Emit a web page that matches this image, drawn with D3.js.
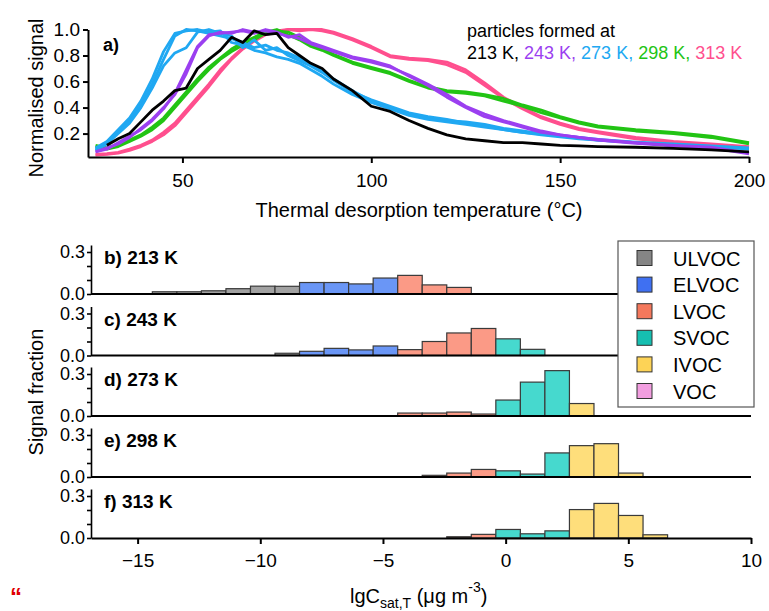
<!DOCTYPE html>
<html>
<head>
<meta charset="utf-8">
<script src="https://cdn.jsdelivr.net/npm/d3@7"></script>
<style>
  body { margin: 0; background: #fff; }
  text { font-family: "Liberation Sans", Arial, sans-serif; }
</style>
</head>
<body>
<svg width="769" height="611"></svg>
<script>
// ---- panel a: thermograms (normalised signal vs desorption temperature)
const temps = [27, 30, 33, 36, 39, 42, 45, 48, 51, 54, 57, 60, 63, 66, 69, 72, 75, 78, 81, 84, 87, 90,
  95, 100, 105, 110, 115, 120, 125, 130, 135, 140, 145, 150, 155, 160, 170, 180, 190, 200]

const curves213 = [
  [null, 0.11, 0.16, 0.20, 0.29, 0.38, 0.45, 0.53, 0.55, 0.70, 0.77, 0.84, 0.94, 0.90, 0.99, 0.96, 0.97, 0.86, 0.80, 0.74, 0.70, 0.62,
   0.53, 0.41, 0.37, 0.30, 0.24, 0.19, 0.16, 0.145, 0.13, 0.13, 0.12, 0.11, 0.105, 0.10, 0.095, 0.087, 0.075, 0.06]
]
const curves243 = [
  [0.06, 0.08, 0.13, 0.18, 0.23, 0.30, 0.39, 0.51, 0.69, 0.87, 0.96, 0.97, 0.98, 0.99, 0.97, 1.0, 0.98, 0.94, 0.96, 0.90, 0.87, 0.84,
   0.79, 0.76, 0.72, 0.64, 0.57, 0.48, 0.40, 0.33, 0.29, 0.25, 0.21, 0.19, 0.17, 0.155, 0.13, 0.11, 0.095, 0.05],
  [0.06, 0.09, 0.12, 0.17, 0.24, 0.31, 0.40, 0.50, 0.66, 0.86, 0.95, 0.98, 0.97, 1.0, 0.98, 0.99, 0.97, 0.95, 0.93, 0.89, 0.86, 0.83,
   0.78, 0.75, 0.71, 0.65, 0.58, 0.50, 0.41, 0.35, 0.30, 0.26, 0.22, 0.19, 0.17, 0.15, 0.125, 0.105, 0.09, 0.045]
]
const curves273 = [
  [0.08, 0.13, 0.22, 0.30, 0.42, 0.58, 0.77, 0.95, 1.0, 0.99, 0.97, 0.95, 0.93, 0.90, 0.86, 0.88, 0.84, 0.82, 0.78, 0.73, 0.68, 0.62,
   0.53, 0.45, 0.40, 0.35, 0.32, 0.30, 0.29, 0.27, 0.24, 0.22, 0.20, 0.185, 0.17, 0.155, 0.135, 0.12, 0.105, 0.09],
  [0.07, 0.12, 0.20, 0.28, 0.40, 0.55, 0.72, 0.82, 0.86, 0.98, 1.0, 0.97, 0.95, 0.86, 0.92, 0.84, 0.86, 0.80, 0.76, 0.72, 0.67, 0.61,
   0.52, 0.46, 0.41, 0.36, 0.33, 0.31, 0.28, 0.26, 0.23, 0.21, 0.195, 0.18, 0.165, 0.15, 0.13, 0.115, 0.10, 0.085],
  [0.09, 0.14, 0.23, 0.32, 0.45, 0.62, 0.83, 0.97, 0.99, 1.0, 0.98, 0.99, 0.90, 0.88, 0.84, 0.82, 0.79, 0.77, 0.74, 0.69, 0.64, 0.58,
   0.50, 0.44, 0.39, 0.34, 0.31, 0.29, 0.27, 0.25, 0.23, 0.21, 0.19, 0.175, 0.16, 0.15, 0.13, 0.11, 0.10, 0.08]
]
const curves298 = [
  [0.10, 0.08, 0.10, 0.14, 0.18, 0.23, 0.30, 0.40, 0.50, 0.60, 0.69, 0.77, 0.83, 0.88, 0.92, 0.97, 0.99, 0.98, 0.94, 0.88, 0.85, 0.81,
   0.75, 0.71, 0.67, 0.61, 0.56, 0.53, 0.52, 0.50, 0.47, 0.42, 0.38, 0.33, 0.29, 0.26, 0.23, 0.21, 0.18, 0.13],
  [0.11, 0.09, 0.11, 0.15, 0.19, 0.25, 0.32, 0.42, 0.52, 0.62, 0.71, 0.78, 0.85, 0.90, 0.94, 0.98, 1.0, 0.96, 0.92, 0.87, 0.84, 0.80,
   0.74, 0.70, 0.66, 0.60, 0.55, 0.52, 0.51, 0.49, 0.45, 0.41, 0.36, 0.32, 0.28, 0.25, 0.22, 0.20, 0.17, 0.12]
]
const curves313 = [
  [0.035, 0.04, 0.05, 0.07, 0.10, 0.14, 0.19, 0.26, 0.36, 0.46, 0.56, 0.67, 0.77, 0.85, 0.91, 0.96, 0.98, 1.0, 1.0, 1.0, 1.0, 0.98,
   0.93, 0.87, 0.80, 0.78, 0.77, 0.75, 0.69, 0.59, 0.48, 0.40, 0.33, 0.28, 0.24, 0.215, 0.17, 0.14, 0.12, 0.10],
  [0.04, 0.045, 0.055, 0.08, 0.11, 0.15, 0.21, 0.28, 0.38, 0.48, 0.58, 0.69, 0.78, 0.86, 0.92, 0.97, 0.99, 1.0, 0.99, 1.0, 0.99, 0.97,
   0.92, 0.86, 0.79, 0.77, 0.76, 0.73, 0.67, 0.57, 0.47, 0.39, 0.32, 0.27, 0.23, 0.205, 0.16, 0.13, 0.11, 0.09]
]

const formTemps = ["213 K", "243 K", "273 K", "298 K", "313 K"]
const formColors = ["#000000", "#9b3ff0", "#20a8f2", "#22c414", "#ff4f8e"]
const curveSets = [curves213, curves243, curves273, curves298, curves313]

// ---- panels b-f: volatility distributions
const binCentres = [-14, -13, -12, -11, -10, -9, -8, -7, -6, -5, -4, -3, -2, -1, 0, 1, 2, 3, 4, 5, 6]
const frac213 = [0.016, 0.016, 0.023, 0.038, 0.056, 0.055, 0.082, 0.082, 0.072, 0.114, 0.133, 0.065, 0.047, 0, 0, 0, 0, 0, 0, 0, 0]
const frac243 = [0, 0, 0, 0, 0, 0.016, 0.030, 0.051, 0.040, 0.068, 0.042, 0.100, 0.161, 0.193, 0.119, 0.044, 0, 0, 0, 0, 0]
const frac273 = [0, 0, 0, 0, 0, 0, 0, 0, 0, 0, 0.021, 0.021, 0.028, 0.014, 0.114, 0.242, 0.324, 0.089, 0, 0, 0]
const frac298 = [0, 0, 0, 0, 0, 0, 0, 0, 0, 0, 0, 0.012, 0.028, 0.054, 0.044, 0.021, 0.172, 0.224, 0.238, 0.028, 0]
const frac313 = [0, 0, 0, 0, 0, 0, 0, 0, 0, 0, 0, 0, 0.009, 0.026, 0.061, 0.030, 0.051, 0.203, 0.247, 0.161, 0.023]
const panelLabels = ["b) 213 K", "c) 243 K", "d) 273 K", "e) 298 K", "f) 313 K"]
const fracSets = [frac213, frac243, frac273, frac298, frac313]

const classNames = ["ULVOC", "ELVOC", "LVOC", "SVOC", "IVOC", "VOC"]
const classEdges = [-8.5, -4.5, -0.5, 2.5, 6.5]
const barColors = ["#a2a2a2", "#6a96f6", "#fb9a86", "#46d9ce", "#fede7b", "#f3a6e4"]
const keyColors = ["#858585", "#3f70f2", "#f4785c", "#16bfb1", "#fdd356", "#f29ee0"]

const svg = d3.select("svg")
const font = "'Liberation Sans', Arial, sans-serif"

// ================= panel a
const xA = d3.scaleLinear().domain([25, 200]).range([88, 749])
const yA = d3.scaleLinear().domain([0.02, 1]).range([157, 29.5])

const line = d3.line()
  .defined(d => d[1] !== null)
  .x(d => xA(d[0]))
  .y(d => yA(d[1]))

const order = [4, 3, 2, 1, 0]
order.forEach(k => {
  curveSets[k].forEach(vals => {
    svg.append("path")
      .datum(temps.map((t, i) => [t, vals[i]]))
      .attr("d", line)
      .attr("fill", "none")
      .attr("stroke", formColors[k])
      .attr("stroke-width", 2.8)
      .attr("stroke-linejoin", "round")
  })
})

const axA = svg.append("g").attr("transform", "translate(0,157)")
  .call(d3.axisBottom(xA).tickValues([50, 100, 150, 200]).tickSize(6).tickSizeOuter(0).tickPadding(11))
const ayA = svg.append("g").attr("transform", "translate(88,0)")
  .call(d3.axisLeft(yA).tickValues([0.2, 0.4, 0.6, 0.8, 1.0]).tickFormat(d3.format(".1f")).tickSize(5).tickSizeOuter(0).tickPadding(3))
;[axA, ayA].forEach(g => {
  g.selectAll("path, line").attr("stroke", "#000").attr("stroke-width", 2)
  g.selectAll("text").attr("font-size", 19).attr("font-family", font).attr("fill", "#000")
})

svg.append("text").attr("x", 103).attr("y", 51).attr("font-size", 18).attr("font-weight", "bold").text("a)")

svg.append("text")
  .attr("transform", "translate(43,98) rotate(-90)")
  .attr("text-anchor", "middle").attr("font-size", 20)
  .text("Normalised signal")

svg.append("text").attr("x", 419).attr("y", 217).attr("text-anchor", "middle").attr("font-size", 20)
  .text("Thermal desorption temperature (°C)")

svg.append("text").attr("x", 467).attr("y", 37).attr("font-size", 18).text("particles formed at")
const key = svg.append("text").attr("x", 467).attr("y", 59).attr("font-size", 18)
formTemps.forEach((t, i) => {
  key.append("tspan").attr("fill", formColors[i]).text(t + (i < formTemps.length - 1 ? ", " : ""))
})

// ================= panels b-f
const xB = d3.scaleLinear().domain([-16.9, 10]).range([91, 751])
const classOf = d3.scaleThreshold().domain(classEdges).range(d3.range(classNames.length))
const panelBase = [294, 355.5, 416, 477, 538]

fracSets.forEach((vals, p) => {
  const y0 = panelBase[p]
  const yB = d3.scaleLinear().domain([0, 0.35]).range([y0, y0 - 49])
  const g = svg.append("g")

  g.selectAll("rect")
    .data(binCentres.map((c, i) => ({ c: c, v: vals[i] })).filter(d => d.v > 0))
    .join("rect")
    .attr("x", d => xB(d.c - 0.4))
    .attr("width", d => xB(d.c + 0.6) - xB(d.c - 0.4))
    .attr("y", d => yB(d.v))
    .attr("height", d => yB(0) - yB(d.v))
    .attr("fill", d => barColors[classOf(d.c + 0.1)])
    .attr("stroke", "#3a3a3a")
    .attr("stroke-width", 1.2)

  const ay = g.append("g").attr("transform", "translate(91,0)")
    .call(d3.axisLeft(yB).tickValues([0, 0.1, 0.2, 0.3])
      .tickFormat(d => (d === 0 || d === 0.3) ? d3.format(".1f")(d) : "")
      .tickSize(4).tickSizeOuter(0).tickPadding(2))
  ay.selectAll("path, line").attr("stroke", "#000").attr("stroke-width", 1.6)
  ay.selectAll("text").attr("font-size", 18).attr("font-family", font).attr("fill", "#000")

  if (p === fracSets.length - 1) {
    const ax = g.append("g").attr("transform", `translate(0,${y0})`)
      .call(d3.axisBottom(xB).tickValues([-15, -10, -5, 0, 5, 10]).tickSize(6).tickSizeOuter(0).tickPadding(10))
    ax.selectAll("path, line").attr("stroke", "#000").attr("stroke-width", 2)
    ax.selectAll("text").attr("font-size", 19).attr("font-family", font).attr("fill", "#000")
  } else {
    g.append("line").attr("x1", 91).attr("x2", 751).attr("y1", y0).attr("y2", y0)
      .attr("stroke", "#000").attr("stroke-width", 2)
  }

  g.append("text").attr("x", 104).attr("y", y0 - 30).attr("font-size", 19).attr("font-weight", "bold")
    .text(panelLabels[p])
})

svg.append("text")
  .attr("transform", "translate(43,392) rotate(-90)")
  .attr("text-anchor", "middle").attr("font-size", 20)
  .text("Signal fraction")

const xt = svg.append("text").attr("x", 350).attr("y", 603).attr("font-size", 20)
xt.append("tspan").text("lgC")
xt.append("tspan").attr("font-size", 14).attr("dy", 5).text("sat,T")
xt.append("tspan").attr("dy", -5).text(" (μg m")
xt.append("tspan").attr("font-size", 14).attr("dy", -11).text("-3")
xt.append("tspan").attr("dy", 11).text(")")

// legend box
const lg = svg.append("g")
lg.append("rect").attr("x", 618).attr("y", 241).attr("width", 136).attr("height", 166)
  .attr("fill", "#fff").attr("stroke", "#555").attr("stroke-width", 1.2)
classNames.forEach((n, i) => {
  const cy = 258 + i * 26.6
  lg.append("rect").attr("x", 637).attr("y", cy - 7.5).attr("width", 15).attr("height", 15)
    .attr("fill", keyColors[i]).attr("stroke", "#333").attr("stroke-width", 1)
  lg.append("text").attr("x", 673).attr("y", cy + 7.5).attr("font-size", 20).text(n)
})

svg.append("text").attr("x", 10).attr("y", 605).attr("font-size", 24).attr("font-weight", "bold")
  .attr("font-family", "'Liberation Serif', serif").attr("fill", "#e00000").text("“")
</script>
</body>
</html>
